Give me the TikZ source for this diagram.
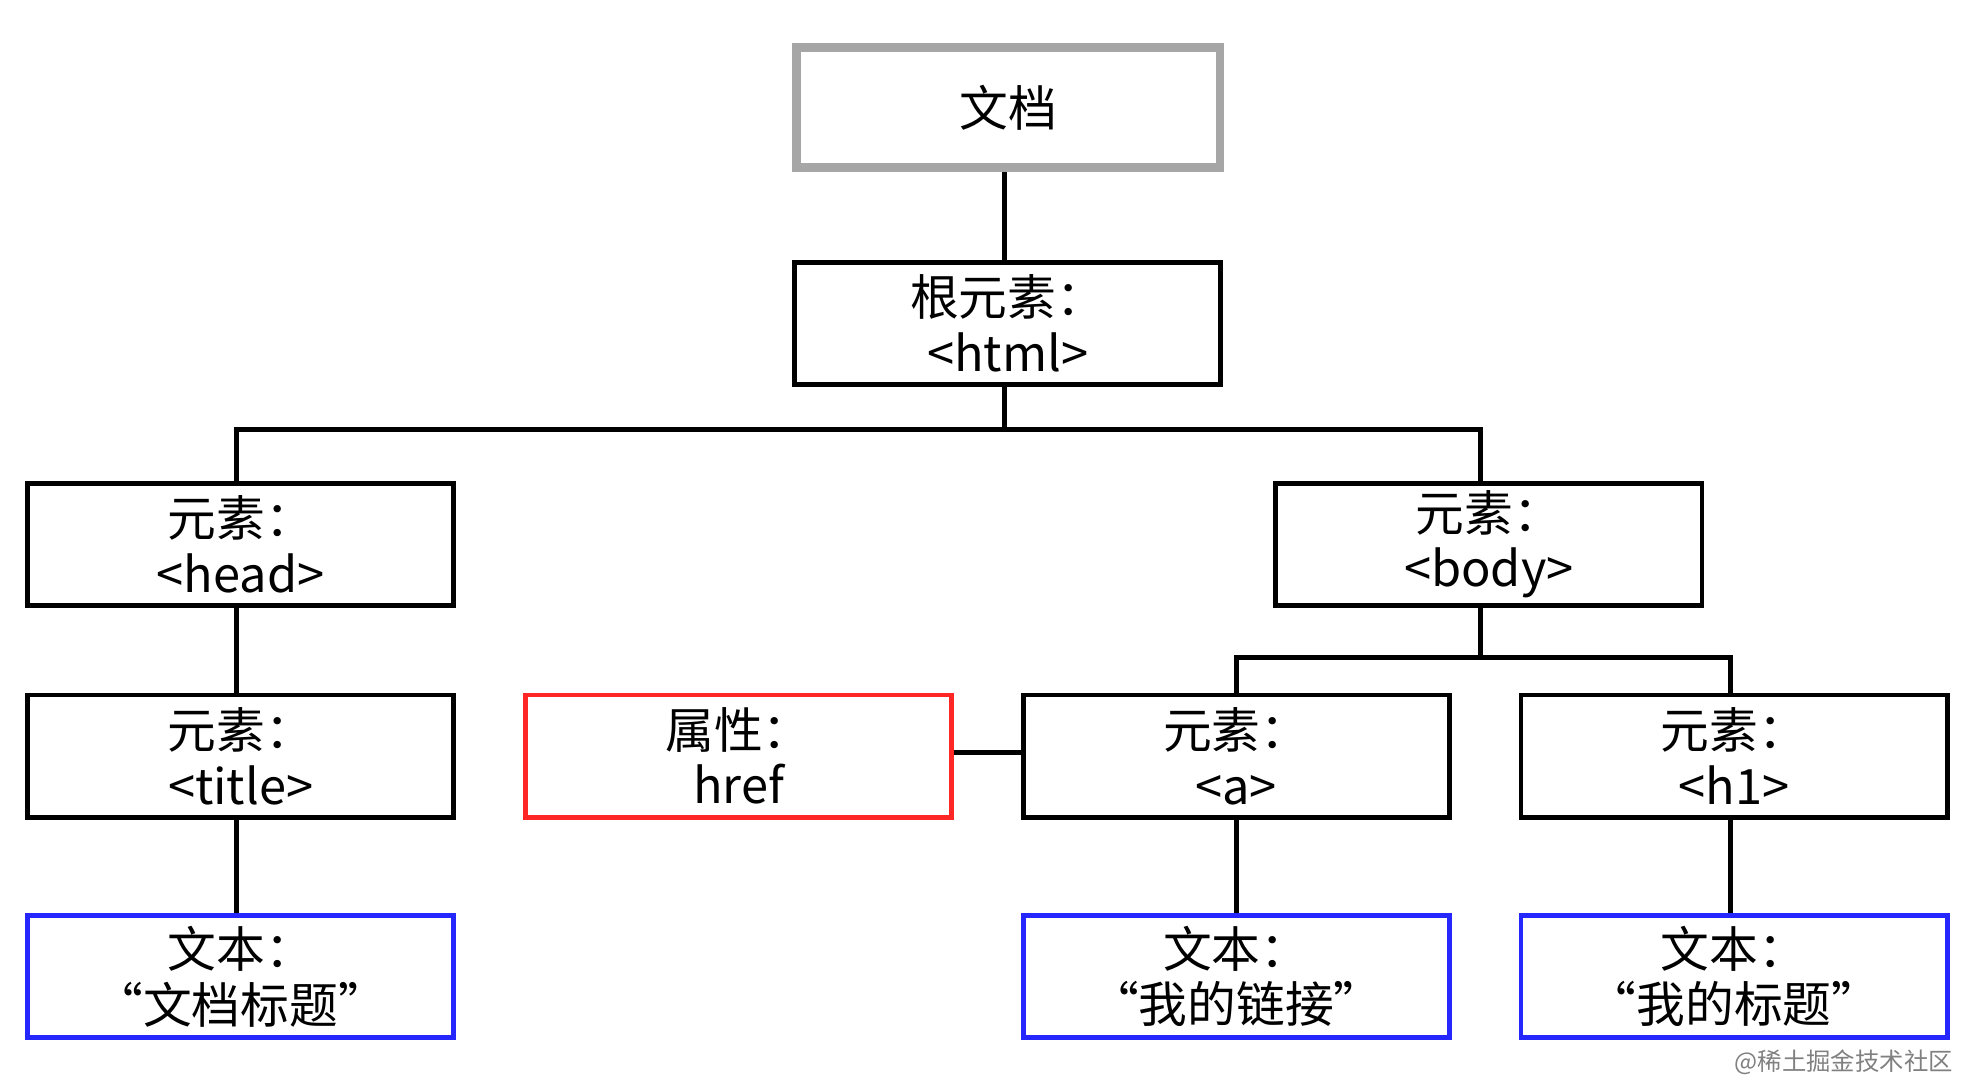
\documentclass[tikz,border=0pt]{standalone}
\usepackage{fontspec}
\setmainfont{Noto Sans CJK SC}
\begin{document}
\begin{tikzpicture}[x=0.01cm,y=-0.01cm,
 box/.style={draw=black,line width=1.1pt,minimum width=3.38cm,minimum height=0.97cm,align=center,inner sep=0pt,font=\fontsize{11}{12.5}\selectfont},
 ln/.style={line width=1.1pt}]
\useasboundingbox (0,0) rectangle (1568,857);
\node[box,draw=gray!70,line width=2pt,minimum width=3.36cm,minimum height=0.95cm] (doc) at (800,85.5) {文档};
\node[box] (html) at (799.5,256.5) {根元素：\\<html>};
\node[box] (head) at (191,432) {元素：\\<head>};
\node[box] (body) at (1181.5,432) {元素：\\<body>};
\node[box] (title) at (191,600) {元素：\\<title>};
\node[box,draw=red!85] (href) at (586,600) {属性：\\href};
\node[box] (a) at (981,600) {元素：\\<a>};
\node[box] (h1) at (1376,600) {元素：\\<h1>};
\node[box,draw=blue!85] (t1) at (191,775) {文本：\\“文档标题”};
\node[box,draw=blue!85] (t2) at (981,775) {文本：\\“我的链接”};
\node[box,draw=blue!85] (t3) at (1376,775) {文本：\\“我的标题”};
\node[font=\fontsize{5.5}{6}\selectfont,text=gray,anchor=east] (wm) at (1562,843) {@稀土掘金技术社区};
\draw[ln] (doc.south -| 797,0) -- (html.north -| 797,0);
\draw[ln] (html.south -| 797,0) -- (797,341) -| (head.north -| 188,0);
\draw[ln] (797,341) -| (body.north -| 1175,0);
\draw[ln] (body.south -| 1175,0) -- (1175,522) -| (a.north);
\draw[ln] (1175,522) -| (h1.north -| 1373,0);
\draw[ln] (head.south -| 188,0) -- (title.north -| 188,0);
\draw[ln] (title.south -| 188,0) -- (t1.north -| 188,0);
\draw[ln] (href.east |- 0,597) -- (a.west |- 0,597);
\draw[ln] (a.south) -- (t2.north);
\draw[ln] (h1.south -| 1373,0) -- (t3.north -| 1373,0);
\end{tikzpicture}
\end{document}
